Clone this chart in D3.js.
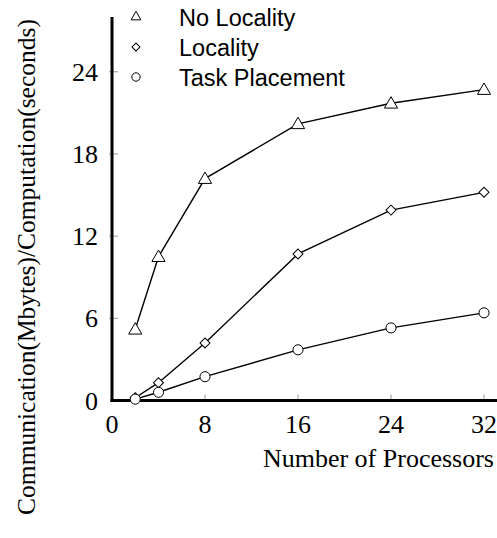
<!DOCTYPE html>
<html><head><meta charset="utf-8">
<script src="https://cdn.jsdelivr.net/npm/d3@7"></script>
<style>body{margin:0;background:#fff}svg{display:block}</style>
</head><body>
<script>
const processors = [2, 4, 8, 16, 24, 32];
const seriesNames = ["No Locality", "Locality", "Task Placement"];
const noLocality = [5.2, 10.5, 16.2, 20.2, 21.7, 22.7];
const locality = [0.2, 1.3, 4.2, 10.7, 13.9, 15.2];
const taskPlacement = [0.1, 0.6, 1.74, 3.7, 5.3, 6.4];
const xTicks = [0, 8, 16, 24, 32];
const yTicks = [0, 6, 12, 18, 24];
const symbols = ["triangle", "diamond", "circle"];

const W = 497, H = 538;
const svg = d3.select("body").append("svg").attr("width", W).attr("height", H);
const x = d3.scaleLinear().domain([0, 32]).range([112, 484]);
const y = d3.scaleLinear().domain([0, 28]).range([400.5, 17]);

// ticks (inward, gray)
const tickG = svg.append("g");
tickG.selectAll("line.xt").data(xTicks.slice(1)).join("line")
  .attr("x1", d => x(d)).attr("x2", d => x(d)).attr("y1", y(0)).attr("y2", y(0) - 6)
  .attr("stroke", "#999").attr("stroke-width", 1);
tickG.selectAll("line.yt").data(yTicks.slice(1)).join("line")
  .attr("x1", x(0) - 3).attr("x2", x(0) + 6).attr("y1", d => y(d)).attr("y2", d => y(d))
  .attr("stroke", "#999").attr("stroke-width", 1);

// axis lines
svg.append("line").attr("x1", x(0)).attr("x2", x(0)).attr("y1", y(28)).attr("y2", y(0) + 1.5)
  .attr("stroke", "#000").attr("stroke-width", 3);
svg.append("line").attr("x1", x(0) - 1.5).attr("x2", W).attr("y1", y(0)).attr("y2", y(0))
  .attr("stroke", "#000").attr("stroke-width", 3);

// tick labels
svg.selectAll("text.xl").data(xTicks).join("text")
  .attr("x", d => x(d)).attr("y", 433).attr("text-anchor", "middle")
  .attr("font-family", "Liberation Serif, Times New Roman, serif").attr("font-size", 26)
  .text(d => d);
svg.selectAll("text.yl").data(yTicks).join("text")
  .attr("x", 98).attr("y", d => y(d)).attr("dy", "0.35em").attr("text-anchor", "end")
  .attr("font-family", "Liberation Serif, Times New Roman, serif").attr("font-size", 26)
  .text(d => d);

// axis titles
svg.append("text").attr("x", 494).attr("y", 467).attr("text-anchor", "end")
  .attr("font-family", "Liberation Serif, Times New Roman, serif").attr("font-size", 26)
  .text("Number of Processors");
svg.append("text").attr("transform", "translate(35,267) rotate(-90)").attr("text-anchor", "middle")
  .attr("font-family", "Liberation Serif, Times New Roman, serif").attr("font-size", 25.5)
  .text("Communication(Mbytes)/Computation(seconds)");

// series
const allSeries = [noLocality, locality, taskPlacement];
const line = d3.line().x((d, i) => x(processors[i])).y(d => y(d));
const symType = {triangle: d3.symbolTriangle, diamond: d3.symbolSquare, circle: d3.symbolCircle};
const symSize = {triangle: 75, diamond: 50, circle: 80};
const rot = s => (s === "diamond" ? " rotate(45)" : "");
allSeries.forEach((vals) => {
  svg.append("path").datum(vals).attr("d", line)
    .attr("fill", "none").attr("stroke", "#000").attr("stroke-width", 1.4);
});
allSeries.forEach((vals, si) => {
  const s = symbols[si];
  svg.selectAll(null).data(vals).join("path")
    .attr("transform", (d, i) => `translate(${x(processors[i])},${y(d) + (s === "triangle" ? 1 : 0)})${rot(s)}`)
    .attr("d", d3.symbol().type(symType[s]).size(symSize[s]))
    .attr("fill", "#fff").attr("stroke", "#000").attr("stroke-width", 1);
});

// legend
const lg = svg.append("g");
const legSize = {triangle: 42, diamond: 32, circle: 55};
seriesNames.forEach((name, i) => {
  const cy = 17 + i * 30;
  const s = symbols[i];
  lg.append("path").attr("transform", `translate(136,${cy})${rot(s)}`)
    .attr("d", d3.symbol().type(symType[s]).size(legSize[s]))
    .attr("fill", "#fff").attr("stroke", "#000").attr("stroke-width", 1);
  lg.append("text").attr("x", 179).attr("y", cy + 8.5)
    .attr("font-family", "Liberation Sans, Arial, sans-serif").attr("font-size", 23.5)
    .text(name);
});
</script>
</body></html>
